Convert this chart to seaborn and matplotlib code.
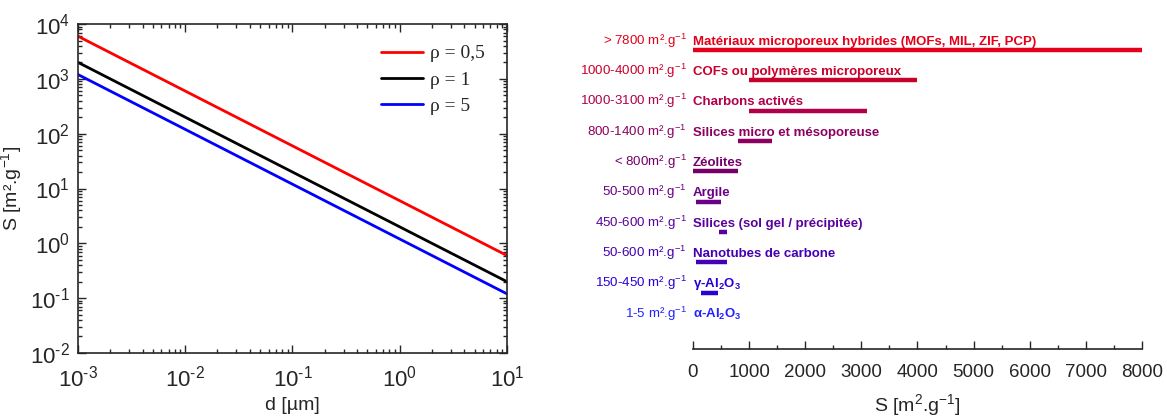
import numpy as np
import pandas as pd
import seaborn as sns
import matplotlib.pyplot as plt
from matplotlib.ticker import LogLocator, MultipleLocator, NullFormatter, FuncFormatter

# Left panel: specific surface vs particle diameter (straight lines in log-log)
d_um = [1e-3, 1e1]
s_rho05 = [6000, 0.6]
s_rho1 = [2000, 0.2]
s_rho5 = [1200, 0.12]
rho_labels = ["ρ = 0,5", "ρ = 1", "ρ = 5"]
rho_colors = ["#ff0000", "#000000", "#0000ff"]

# Right panel: surface ranges per material
materials = [
    "Matériaux microporeux hybrides (MOFs, MIL, ZIF, PCP)",
    "COFs ou polymères microporeux",
    "Charbons activés",
    "Silices micro et mésoporeuse",
    "Zéolites",
    "Argile",
    "Silices (sol gel / précipitée)",
    "Nanotubes de carbone",
    r"γ-Al$_\mathbf{2}$O$_\mathbf{3}$",
    r"α-Al$_\mathbf{2}$O$_\mathbf{3}$",
]
range_text = [
    "> 7800 m².g$^{-1}$", "1000-4000 m².g$^{-1}$", "1000-3100 m².g$^{-1}$",
    "800-1400 m².g$^{-1}$", "< 800m².g$^{-1}$", "50-500 m².g$^{-1}$",
    "450-600 m².g$^{-1}$", "50-600 m².g$^{-1}$", "150-450 m².g$^{-1}$",
    "1-5 m².g$^{-1}$",
]
s_min = [0, 1000, 1000, 800, 0, 50, 460, 50, 150, 1]
s_max = [8000, 4000, 3100, 1400, 800, 500, 600, 600, 450, 5]
mat_colors = ["#e3001b", "#c8002c", "#b0004a", "#8c0060", "#75006a",
              "#6a0085", "#5a009c", "#4400b4", "#2a00d4", "#2222ff"]

sns.set_style("ticks")
plt.rcParams['font.family'] = ['Liberation Sans', 'DejaVu Sans']
plt.rcParams['mathtext.fontset'] = 'custom'
plt.rcParams['mathtext.rm'] = 'Liberation Sans'
plt.rcParams['mathtext.it'] = 'Liberation Sans:italic'
plt.rcParams['mathtext.bf'] = 'Liberation Sans:bold'


def pow10(v, pos):
    e = int(round(np.log10(v)))
    s = str(abs(e))
    if e < 0:
        s = "\u2010" + s
    return "$10^{%s}$" % s


fig = plt.figure(figsize=(11.67, 4.18), dpi=100)

# ---- left panel
ax1 = fig.add_axes([0.0668, 0.1555, 0.3676, 0.787])
df = pd.DataFrame({
    "d": d_um * 3,
    "S": s_rho05 + s_rho1 + s_rho5,
    "rho": [rho_labels[0]] * 2 + [rho_labels[1]] * 2 + [rho_labels[2]] * 2,
})
sns.lineplot(data=df, x="d", y="S", hue="rho", palette=rho_colors, linewidth=2, ax=ax1)
ax1.set_xscale("log")
ax1.set_yscale("log")
ax1.set_xlim(1e-3, 1e1)
ax1.set_ylim(1e-2, 1e4)
ax1.xaxis.set_major_locator(LogLocator(base=10, numticks=10))
ax1.yaxis.set_major_locator(LogLocator(base=10, numticks=10))
ax1.xaxis.set_major_formatter(FuncFormatter(pow10))
ax1.yaxis.set_major_formatter(FuncFormatter(pow10))
ax1.xaxis.set_minor_locator(LogLocator(base=10, subs=np.arange(2, 10), numticks=20))
ax1.yaxis.set_minor_locator(LogLocator(base=10, subs=np.arange(2, 10), numticks=20))
ax1.xaxis.set_minor_formatter(NullFormatter())
ax1.yaxis.set_minor_formatter(NullFormatter())
ax1.tick_params(which="both", direction="in", top=True, right=True, labelsize=16, width=1)
ax1.tick_params(which="major", length=6, pad=6)
ax1.tick_params(axis="x", which="major", pad=9)
ax1.tick_params(which="minor", length=3)
for sp in ax1.spines.values():
    sp.set_linewidth(1.2)
ax1.set_xlabel("d [µm]", fontsize=14, labelpad=4)
ax1.set_ylabel("S [m².g$^{-1}$]", fontsize=14, labelpad=4)
leg = ax1.legend(frameon=False, loc="upper right", handlelength=2.15, handletextpad=0.4,
                 prop={"family": "Liberation Serif", "size": 14},
                 bbox_to_anchor=(0.99, 0.99), labelspacing=0.45)
for line in leg.get_lines():
    line.set_linewidth(2)

# ---- right panel
ax2 = fig.add_axes([0.5938, 0.165, 0.3848, 0.775])
ypos = list(range(len(materials)))
ax2.hlines(y=ypos, xmin=s_min, xmax=s_max, colors=mat_colors, linewidth=3.2)
for i in ypos:
    ax2.text(0, i - 0.17, materials[i], color=mat_colors[i], fontsize=9.5,
             fontweight="bold", ha="left", va="baseline")
    ax2.text(-110, i - 0.17, range_text[i], color=mat_colors[i], fontsize=9.6,
             ha="right", va="baseline")
ax2.set_xlim(0, 8000)
ax2.set_ylim(9.86, -0.82)
ax2.set_yticks([])
for s in ["left", "right", "top"]:
    ax2.spines[s].set_visible(False)
ax2.spines["bottom"].set_linewidth(1.2)
ax2.xaxis.set_major_locator(MultipleLocator(1000))
ax2.xaxis.set_minor_locator(MultipleLocator(500))
ax2.tick_params(axis="x", which="both", direction="in", labelsize=13.5, pad=11)
ax2.tick_params(axis="x", which="major", length=6, width=1)
ax2.tick_params(axis="x", which="minor", length=3, width=1)
ax2.set_xlabel("S [m$^2$.g$^{-1}$]", fontsize=14, labelpad=8)

fig.savefig("out.png", dpi=100)
